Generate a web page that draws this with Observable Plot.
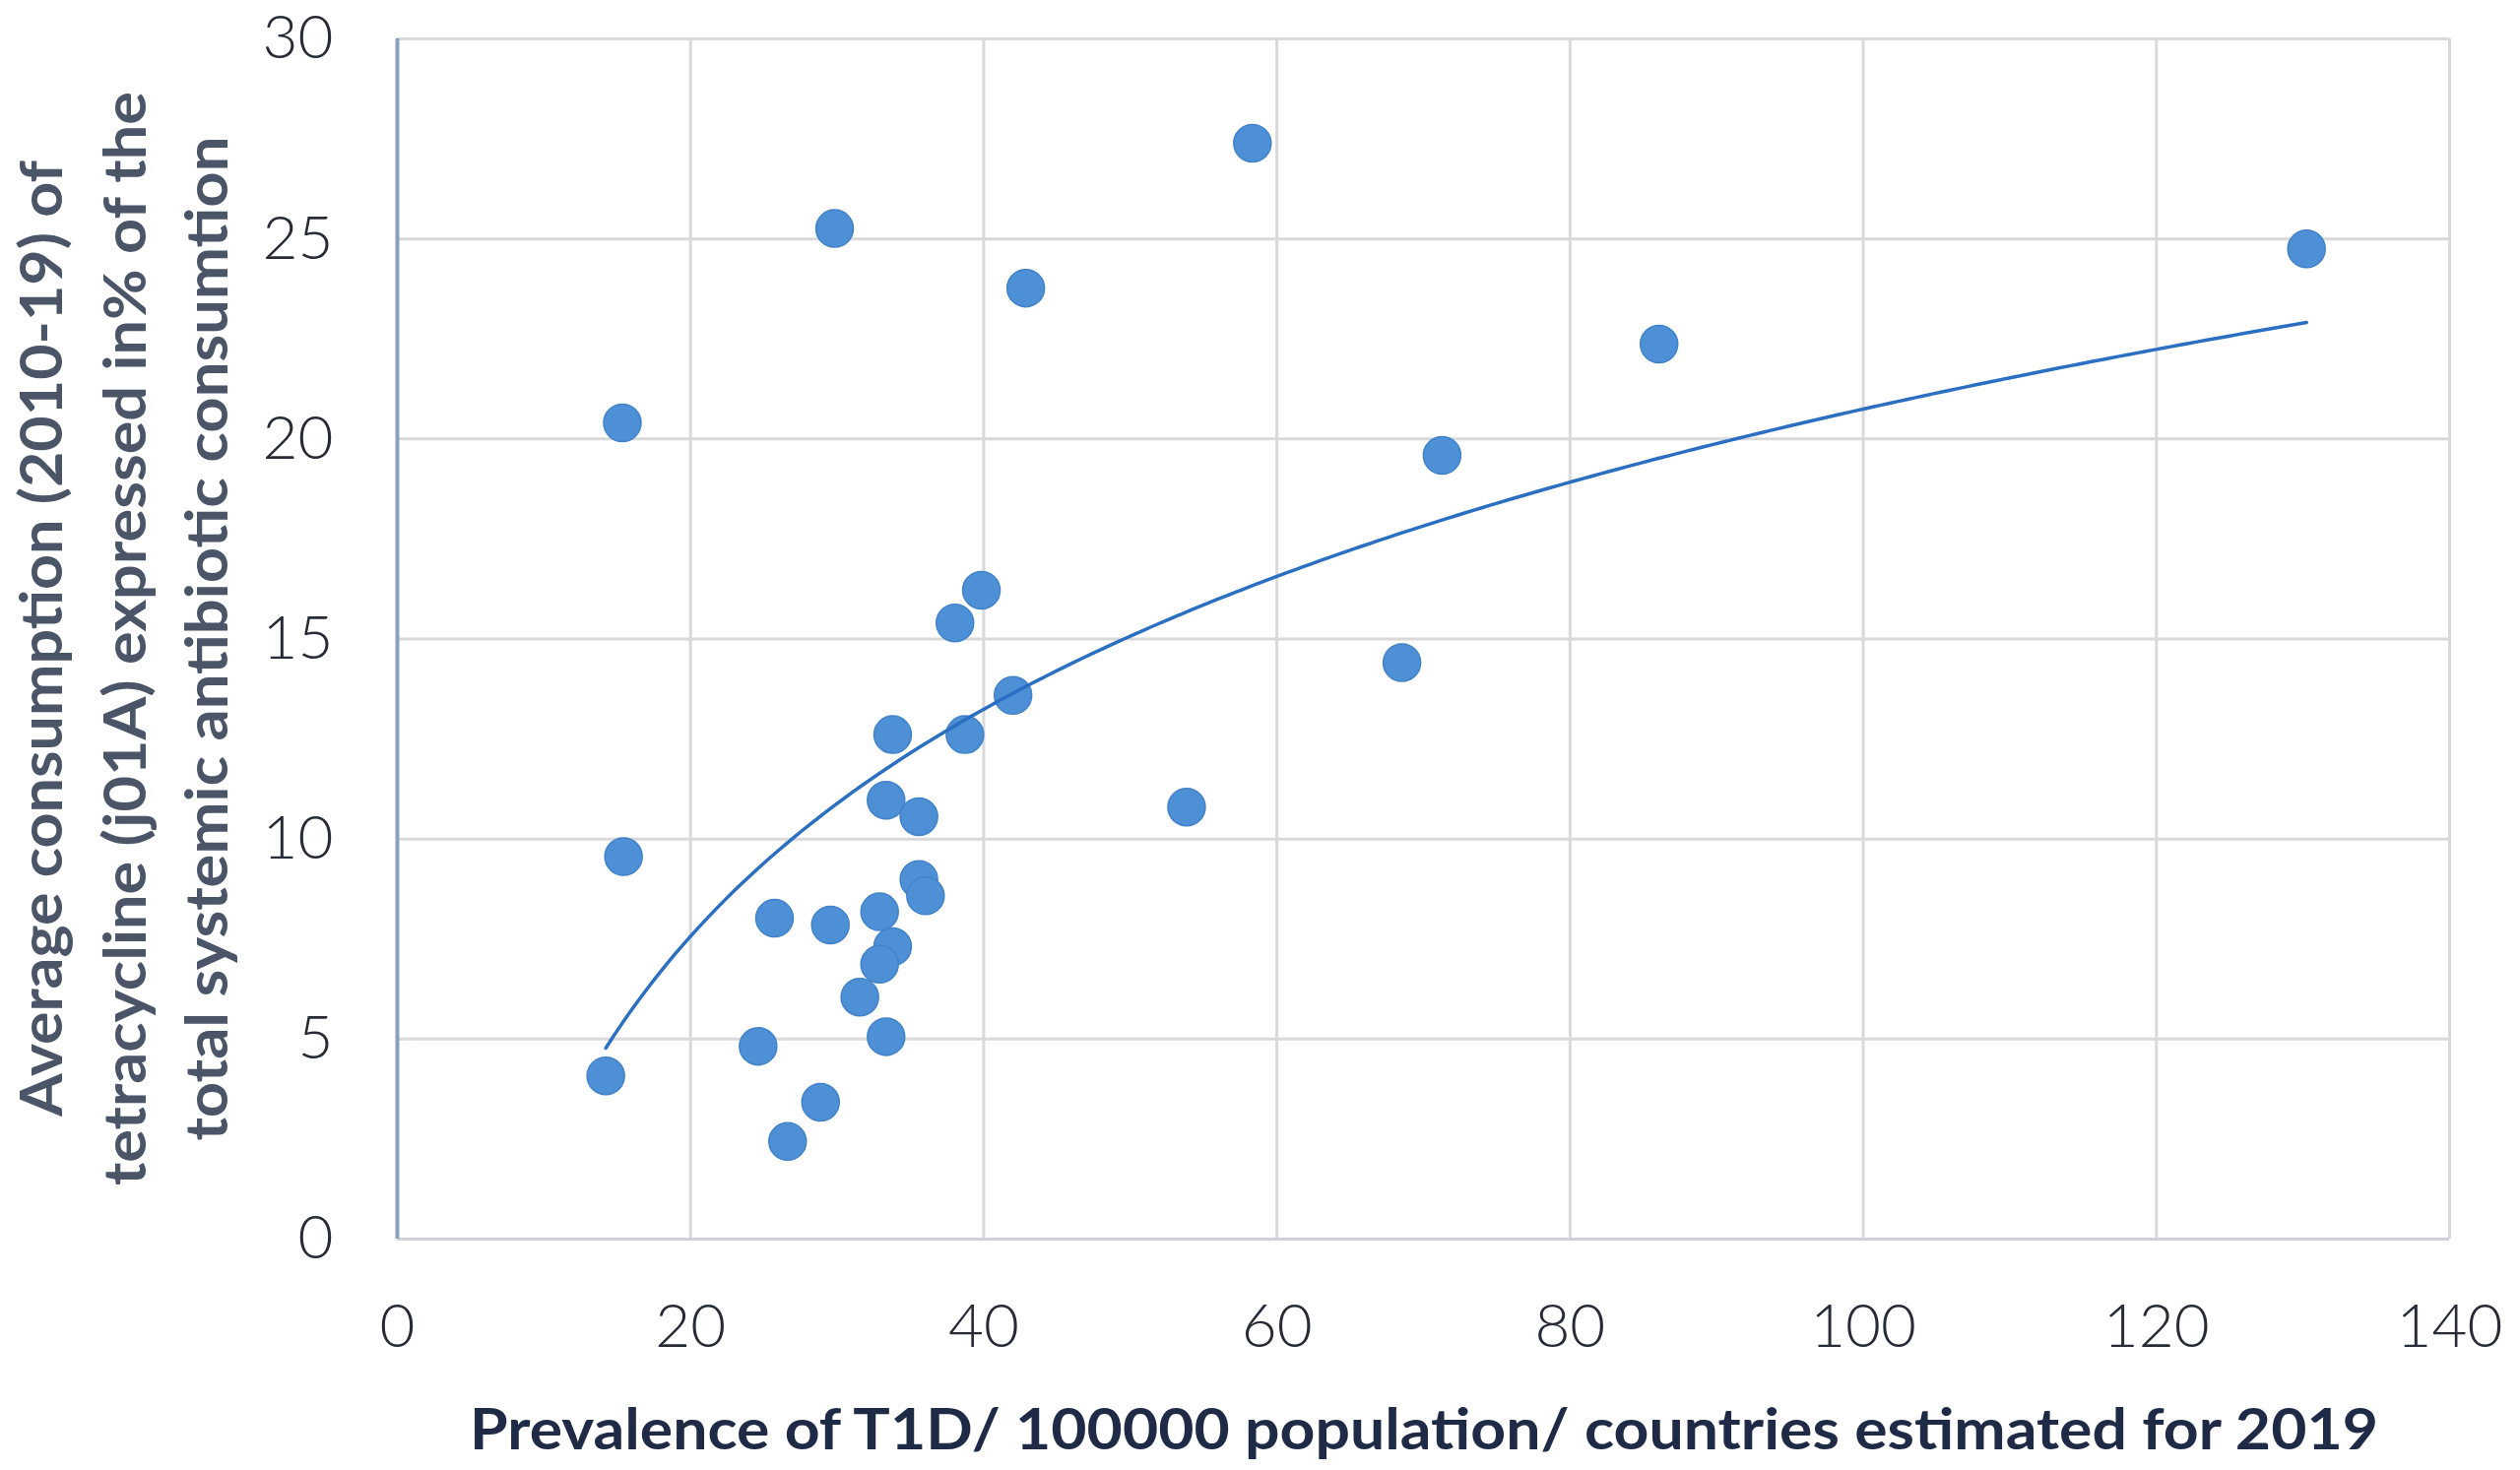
<!DOCTYPE html>
<html>
<head>
<meta charset="utf-8">
<script src="https://cdn.jsdelivr.net/npm/d3@7"></script>
<script src="https://cdn.jsdelivr.net/npm/@observablehq/plot@0.6"></script>
<style>
  html, body { margin: 0; padding: 0; background: #ffffff; }
  #chart { width: 2559px; height: 1493px; }
</style>
</head>
<body>
<div id="chart"></div>
<script>
// Prevalence of T1D / 100000 population (x)
const prevalence = [15.35, 29.83, 58.33, 42.87, 130.24, 86.07, 71.27, 39.84, 38.04, 68.53,
                    42.0, 33.79, 38.72, 33.34, 35.58, 53.84, 15.43, 35.58, 36.03, 32.9,
                    25.73, 29.54, 33.79, 32.9, 31.55, 33.34, 24.61, 14.22, 28.87, 26.62];
// Average tetracycline consumption in % of total systemic antibiotic consumption (y)
const tetracycline = [20.40, 25.26, 27.39, 23.77, 24.75, 22.37, 19.59, 16.22, 15.40, 14.41,
                      13.59, 12.61, 12.61, 10.97, 10.56, 10.80, 9.56, 8.99, 8.58, 8.18,
                      8.02, 7.85, 7.31, 6.87, 6.05, 5.06, 4.82, 4.08, 3.42, 2.44];
const xTicks = [0, 20, 40, 60, 80, 100, 120, 140];
const yTicks = [0, 5, 10, 15, 20, 25, 30];
const xLabel = "Prevalence of T1D/ 100000 population/ countries estimated for 2019";
const yLabelLines = [
  "Average consumption (2010-19) of",
  "tetracycline (j01A) expressed in% of the",
  "total systemic antibiotic consumtion"
];

const points = prevalence.map((x, i) => ({x, y: tetracycline[i]}));

// Logarithmic trendline (least squares on ln x), as the spreadsheet fit does
const lx = points.map(p => Math.log(p.x));
const mlx = d3.mean(lx), my = d3.mean(points, p => p.y);
const sxy = d3.sum(points, (p, i) => (lx[i] - mlx) * (p.y - my));
const sxx = d3.sum(lx, v => (v - mlx) ** 2);
const slope = sxy / sxx, intercept = my - slope * mlx;
const [xmin, xmax] = d3.extent(prevalence);
const trend = d3.range(0, 201).map(k => {
  const x = xmin + (xmax - xmin) * k / 200;
  return {x, y: slope * Math.log(x) + intercept};
});

const chart = Plot.plot({
  width: 2559,
  height: 1493,
  marginLeft: 403,
  marginRight: 72,
  marginTop: 39,
  marginBottom: 235,
  x: {domain: [0, 140]},
  y: {domain: [0, 30]},
  style: {fontFamily: "Lato, 'Open Sans', sans-serif", background: "#ffffff", overflow: "visible"},
  marks: [
    Plot.gridX(xTicks, {stroke: "#d9d9d9", strokeOpacity: 1, strokeWidth: 3}),
    Plot.gridY(yTicks, {stroke: "#d9d9d9", strokeOpacity: 1, strokeWidth: 3}),
    Plot.ruleY([0], {stroke: "#cdd1d8", strokeWidth: 3}),
    Plot.ruleX([0], {stroke: "#8ea0bb", strokeWidth: 4}),
    Plot.axisX(xTicks, {tickSize: 0, tickPadding: 65, fontSize: 62, fontWeight: 300, fill: "#262b35", label: null}),
    Plot.axisY(yTicks, {tickSize: 0, tickPadding: 65, fontSize: 62, fontWeight: 300, fill: "#262b35", label: null}),
    Plot.dot(points, {x: "x", y: "y", r: 19, fill: "#4d90d6", stroke: "#4282c9", strokeWidth: 1.5}),
    Plot.line(trend, {x: "x", y: "y", stroke: "#2a6fc2", strokeWidth: 3.5})
  ]
});

const svg = d3.select(chart);
// x-axis title
svg.append("text")
  .attr("x", 1446).attr("y", 1472)
  .attr("text-anchor", "middle")
  .attr("font-family", "Lato, 'Open Sans', sans-serif")
  .attr("font-weight", 700)
  .attr("font-size", 58)
  .attr("fill", "#1f2b46")
  .attr("textLength", 1938)
  .attr("lengthAdjust", "spacingAndGlyphs")
  .text(xLabel);
// y-axis title (three lines)
const yBase = [63, 148, 231];
const yLen = [971, 1111, 1020];
yLabelLines.forEach((t, i) => {
  svg.append("text")
    .attr("transform", `translate(${yBase[i]},648.5) rotate(-90)`)
    .attr("text-anchor", "middle")
    .attr("font-family", "Lato, 'Open Sans', sans-serif")
    .attr("font-weight", 700)
    .attr("font-size", 60)
    .attr("fill", "#4b5568")
    .attr("textLength", yLen[i])
    .attr("lengthAdjust", "spacingAndGlyphs")
    .text(t);
});

document.getElementById("chart").appendChild(chart);
</script>
</body>
</html>
